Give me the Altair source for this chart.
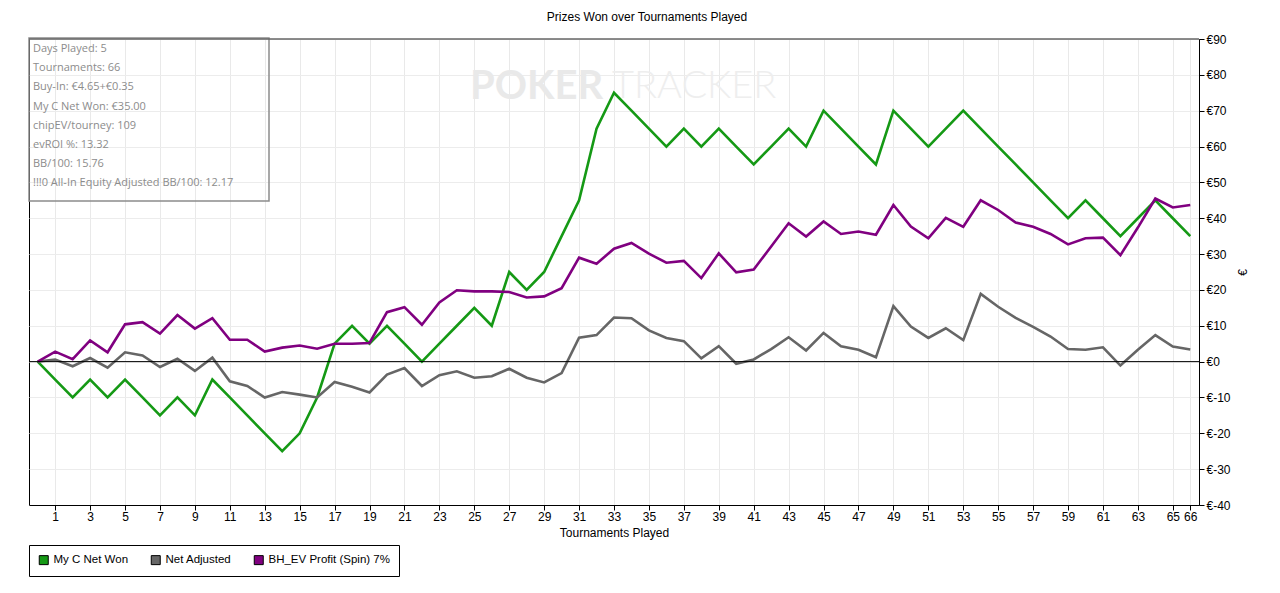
import altair as alt
import pandas as pd

# ---------------- data ----------------
tournaments = list(range(0, 67))

my_c_net_won = [0, -5, -10, -5, -10, -5, -10, -15, -10, -15,
                -5, -10, -15, -20, -25, -20, -10, 5, 10, 5,
                10, 5, 0, 5, 10, 15, 10, 25, 20, 25,
                35, 45, 65, 75, 70, 65, 60, 65, 60, 65,
                60, 55, 60, 65, 60, 70, 65, 60, 55, 70,
                65, 60, 65, 70, 65, 60, 55, 50, 45, 40,
                45, 40, 35, 40, 45, 40, 35]

net_adjusted = [0, 0.6, -1.3, 1.0, -1.7, 2.6, 1.7, -1.5, 0.8, -2.6,
                1.1, -5.5, -6.8, -10.0, -8.5, -9.2, -10.0, -5.7, -7.0, -8.6,
                -3.6, -1.8, -6.8, -3.8, -2.7, -4.5, -4.1, -2.0, -4.5, -5.8,
                -3.2, 6.7, 7.4, 12.3, 12.1, 8.7, 6.6, 5.7, 0.9, 4.3,
                -0.6, 0.6, 3.5, 6.8, 3.1, 8.0, 4.3, 3.3, 1.2, 15.5,
                9.8, 6.6, 9.3, 6.0, 18.9, 15.3, 12.2, 9.7, 7.0, 3.5,
                3.3, 4.0, -1.1, 3.3, 7.4, 4.2, 3.4]

bh_ev_profit = [0, 2.8, 0.7, 5.9, 2.6, 10.4, 11.0, 7.8, 13.0, 9.2,
                12.1, 6.1, 6.1, 2.8, 3.9, 4.5, 3.6, 5.0, 5.0, 5.2,
                13.8, 15.2, 10.3, 16.5, 19.9, 19.6, 19.6, 19.4, 17.9, 18.2,
                20.5, 29.0, 27.3, 31.5, 33.1, 30.1, 27.6, 28.1, 23.3, 30.2,
                24.9, 25.7, 32.1, 38.6, 34.9, 39.1, 35.6, 36.3, 35.4, 43.7,
                37.7, 34.4, 40.1, 37.6, 45.0, 42.3, 38.8, 37.6, 35.6, 32.7,
                34.4, 34.6, 29.7, 37.4, 45.5, 43.0, 43.7]

series_names = ["My C Net Won", "Net Adjusted", "BH_EV Profit (Spin) 7%"]
series_colors = ["#159915", "#666666", "#800080"]

x_tick_values = list(range(1, 66, 2)) + [66]
y_tick_values = list(range(-40, 91, 10))

info_lines = [
    "Days Played: 5",
    "Tournaments: 66",
    "Buy-In: €4.65+€0.35",
    "My C Net Won: €35.00",
    "chipEV/tourney: 109",
    "evROI %: 13.32",
    "BB/100: 15.76",
    "!!!0 All-In Equity Adjusted BB/100: 12.17",
]

chart_title = "Prizes Won over Tournaments Played"
x_title = "Tournaments Played"
y_title = "€"
watermark_bold = "POKER"
watermark_light = "TRACKER"

# ---------------- table ----------------
rows = []
for name, vals in zip(series_names, [my_c_net_won, net_adjusted, bh_ev_profit]):
    for t, v in zip(tournaments, vals):
        rows.append({"t": t, "value": v, "series": name})
df = pd.DataFrame(rows)

W, H = 1170, 466
FONT = "Liberation Sans"

x_scale = alt.Scale(domain=[-0.5, 66.5], nice=False, zero=False)
y_scale = alt.Scale(domain=[-40, 90], nice=False, zero=False)

one = pd.DataFrame({"a": [0]})

watermark1 = alt.Chart(one).mark_text(
    text=watermark_bold, font="Lato", fontWeight="bold", fontSize=40,
    color="#e9e9e9", align="left", baseline="middle"
).encode(x=alt.value(441), y=alt.value(48))

watermark2 = alt.Chart(one).mark_text(
    text=watermark_light, font="Lato", fontWeight=300, fontSize=38,
    color="#eeeeee", align="left", baseline="middle"
).encode(x=alt.value(583), y=alt.value(48))

y_axis = alt.Axis(orient="right", values=y_tick_values,
                  labelExpr="'€' + datum.value", title=y_title,
                  labelFont=FONT, labelFontSize=12, labelColor="black",
                  tickColor="black", tickSize=5, labelPadding=2,
                  labelOverlap=False, labelFlush=False,
                  domainColor="black", gridColor="#ececec",
                  titleFont=FONT, titleFontSize=12, titleFontWeight="normal",
                  titleColor="black", titleAngle=270, titlePadding=19)

zero_rule = alt.Chart(one).mark_rule(color="black", strokeWidth=1).encode(
    y=alt.datum(0, scale=y_scale, axis=y_axis)
)

lines = alt.Chart(df).mark_line(strokeWidth=2.6, clip=True).encode(
    x=alt.X("t:Q", scale=x_scale,
            axis=alt.Axis(values=x_tick_values, title=x_title, grid=True,
                          labelFont=FONT, labelFontSize=12, labelColor="black",
                          tickColor="black", tickSize=5, labelPadding=1,
                          domainColor="black", gridColor="#e9e9e9",
                          titleFont=FONT, titleFontSize=12, titleFontWeight="normal",
                          titleColor="black", titlePadding=5, labelFlush=False,
                          labelOverlap=False)),
    y=alt.Y("value:Q", scale=y_scale, axis=y_axis),
    color=alt.Color("series:N", scale=alt.Scale(domain=series_names, range=series_colors),
                    legend=None),
)

legend_layer = alt.Chart(df).mark_square(
    filled=True, size=81, stroke="black", strokeWidth=1, opacity=1
).encode(
    color=alt.Color("series:N",
                    scale=alt.Scale(domain=series_names, range=series_colors),
                    legend=alt.Legend(orient="none", legendX=0, legendY=506,
                                      direction="horizontal", title=None,
                                      symbolType="square", symbolSize=81,
                                      symbolOpacity=1,
                                      symbolStrokeColor="black", symbolStrokeWidth=1,
                                      strokeColor="black", fillColor="white",
                                      padding=9, columnPadding=20,
                                      labelFont=FONT, labelFontSize=11.5,
                                      labelColor="black", labelOffset=4)),
).transform_filter("datum.t < 0")

info_box = alt.Chart(one).mark_rect(
    fill="transparent", stroke="#8c8c8c", strokeWidth=1.5
).encode(x=alt.value(0), x2=alt.value(240), y=alt.value(-1), y2=alt.value(162))

info_text = alt.Chart(one).mark_text(
    align="left", baseline="top", lineHeight=19.2, fontSize=11,
    font="Open Sans", color="#8c8c8c"
).encode(x=alt.value(4), y=alt.value(4), text=alt.value(info_lines))

top_rule = alt.Chart(one).mark_rule(color="#666666", strokeWidth=1.5).encode(
    x=alt.value(0), x2=alt.value(W), y=alt.value(0)
)

chart = alt.layer(
    watermark1, watermark2, lines, zero_rule, legend_layer, info_box, info_text, top_rule
).resolve_scale(color="independent").properties(
    width=W, height=H,
    title=alt.TitleParams(chart_title, font=FONT, fontSize=12, fontWeight="normal",
                          color="black", dx=33, offset=9),
    autosize=alt.AutoSizeParams(type="none"),
    padding={"left": 21, "top": 31, "right": 73, "bottom": 75},
    background="white",
).configure_view(stroke="black", strokeWidth=1)

chart.save("out.html", embed_options={"renderer": "svg", "actions": False})
